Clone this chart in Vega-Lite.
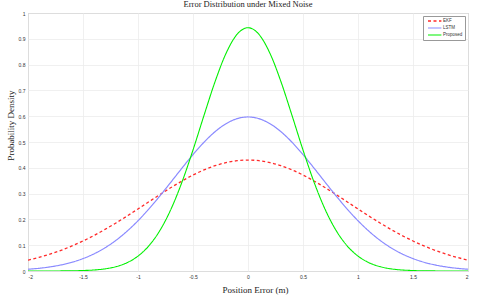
{
  "$schema": "https://vega.github.io/schema/vega-lite/v6.json",
  "autosize": "none",
  "width": 440,
  "height": 258,
  "padding": {"left": 28, "top": 13, "right": 12, "bottom": 24},
  "background": "white",
  "title": {
    "text": "Error Distribution under Mixed Noise",
    "font": "Liberation Serif",
    "fontSize": 8.5,
    "fontWeight": "normal",
    "color": "#222",
    "offset": 3,
    "anchor": "middle"
  },
  "config": {
    "view": {"stroke": "#a0a0a0", "strokeWidth": 1},
    "axis": {
      "grid": true,
      "gridColor": "#ececec",
      "gridWidth": 0.8,
      "domain": false,
      "ticks": false,
      "labelFont": "Liberation Sans",
      "labelFontSize": 5,
      "labelColor": "#333",
      "titleFont": "Liberation Serif",
      "titleFontSize": 9,
      "titleFontWeight": "normal",
      "titleColor": "#222"
    }
  },
  "data": {
    "values": [
      {"x": -2.0, "EKF": 0.0421, "LSTM": 0.0068, "Proposed": 0.0000},
      {"x": -1.9, "EKF": 0.0528, "LSTM": 0.0105, "Proposed": 0.0000},
      {"x": -1.8, "EKF": 0.0655, "LSTM": 0.0159, "Proposed": 0.0001},
      {"x": -1.7, "EKF": 0.0802, "LSTM": 0.0235, "Proposed": 0.0003},
      {"x": -1.6, "EKF": 0.0972, "LSTM": 0.0340, "Proposed": 0.0007},
      {"x": -1.5, "EKF": 0.1164, "LSTM": 0.0481, "Proposed": 0.0018},
      {"x": -1.4, "EKF": 0.1377, "LSTM": 0.0665, "Proposed": 0.0039},
      {"x": -1.3, "EKF": 0.1611, "LSTM": 0.0900, "Proposed": 0.0084},
      {"x": -1.2, "EKF": 0.1863, "LSTM": 0.1190, "Proposed": 0.0169},
      {"x": -1.1, "EKF": 0.2129, "LSTM": 0.1540, "Proposed": 0.0321},
      {"x": -1.0, "EKF": 0.2405, "LSTM": 0.1948, "Proposed": 0.0577},
      {"x": -0.9, "EKF": 0.2686, "LSTM": 0.2410, "Proposed": 0.0981},
      {"x": -0.8, "EKF": 0.2965, "LSTM": 0.2916, "Proposed": 0.1577},
      {"x": -0.7, "EKF": 0.3235, "LSTM": 0.3449, "Proposed": 0.2398},
      {"x": -0.6, "EKF": 0.3488, "LSTM": 0.3989, "Proposed": 0.3449},
      {"x": -0.5, "EKF": 0.3719, "LSTM": 0.4512, "Proposed": 0.4690},
      {"x": -0.4, "EKF": 0.3918, "LSTM": 0.4991, "Proposed": 0.6031},
      {"x": -0.3, "EKF": 0.4081, "LSTM": 0.5398, "Proposed": 0.7333},
      {"x": -0.2, "EKF": 0.4201, "LSTM": 0.5709, "Proposed": 0.8433},
      {"x": -0.1, "EKF": 0.4275, "LSTM": 0.5904, "Proposed": 0.9170},
      {"x": 0.0, "EKF": 0.4300, "LSTM": 0.5970, "Proposed": 0.9430},
      {"x": 0.1, "EKF": 0.4275, "LSTM": 0.5904, "Proposed": 0.9170},
      {"x": 0.2, "EKF": 0.4201, "LSTM": 0.5709, "Proposed": 0.8433},
      {"x": 0.3, "EKF": 0.4081, "LSTM": 0.5398, "Proposed": 0.7333},
      {"x": 0.4, "EKF": 0.3918, "LSTM": 0.4991, "Proposed": 0.6031},
      {"x": 0.5, "EKF": 0.3719, "LSTM": 0.4512, "Proposed": 0.4690},
      {"x": 0.6, "EKF": 0.3488, "LSTM": 0.3989, "Proposed": 0.3449},
      {"x": 0.7, "EKF": 0.3235, "LSTM": 0.3449, "Proposed": 0.2398},
      {"x": 0.8, "EKF": 0.2965, "LSTM": 0.2916, "Proposed": 0.1577},
      {"x": 0.9, "EKF": 0.2686, "LSTM": 0.2410, "Proposed": 0.0981},
      {"x": 1.0, "EKF": 0.2405, "LSTM": 0.1948, "Proposed": 0.0577},
      {"x": 1.1, "EKF": 0.2129, "LSTM": 0.1540, "Proposed": 0.0321},
      {"x": 1.2, "EKF": 0.1863, "LSTM": 0.1190, "Proposed": 0.0169},
      {"x": 1.3, "EKF": 0.1611, "LSTM": 0.0900, "Proposed": 0.0084},
      {"x": 1.4, "EKF": 0.1377, "LSTM": 0.0665, "Proposed": 0.0039},
      {"x": 1.5, "EKF": 0.1164, "LSTM": 0.0481, "Proposed": 0.0018},
      {"x": 1.6, "EKF": 0.0972, "LSTM": 0.0340, "Proposed": 0.0007},
      {"x": 1.7, "EKF": 0.0802, "LSTM": 0.0235, "Proposed": 0.0003},
      {"x": 1.8, "EKF": 0.0655, "LSTM": 0.0159, "Proposed": 0.0001},
      {"x": 1.9, "EKF": 0.0528, "LSTM": 0.0105, "Proposed": 0.0000},
      {"x": 2.0, "EKF": 0.0421, "LSTM": 0.0068, "Proposed": 0.0000}
    ]
  },
  "transform": [
    {"fold": ["EKF", "LSTM", "Proposed"], "as": ["method", "density"]}
  ],
  "mark": {"type": "line", "interpolate": "monotone", "clip": true},
  "encoding": {
    "x": {
      "field": "x",
      "type": "quantitative",
      "scale": {"domain": [-2, 2], "nice": false},
      "axis": {
        "values": [-2, -1.5, -1, -0.5, 0, 0.5, 1, 1.5, 2],
        "labelExpr": "'' + datum.value",
        "labelPadding": 3,
        "title": "Position Error (m)",
        "titleX": 227,
        "titleY": 21,
        "titleBaseline": "alphabetic",
        "titleAnchor": "middle"
      }
    },
    "y": {
      "field": "density",
      "type": "quantitative",
      "scale": {"domain": [0, 1], "nice": false},
      "axis": {
        "values": [0, 0.1, 0.2, 0.3, 0.4, 0.5, 0.6, 0.7, 0.8, 0.9, 1],
        "labelExpr": "'' + datum.value",
        "labelPadding": 3,
        "title": "Probability Density",
        "titleX": -18,
        "titleY": 112,
        "titleAngle": -90,
        "titleBaseline": "middle",
        "titleAnchor": "middle"
      }
    },
    "color": {
      "field": "method",
      "type": "nominal",
      "scale": {"domain": ["EKF", "LSTM", "Proposed"], "range": ["#ff2a2a", "#8a8aff", "#00f000"]},
      "legend": {
        "title": null,
        "orient": "top-right",
        "offset": 3,
        "fillColor": "white",
        "strokeColor": "#999",
        "padding": 2,
        "rowPadding": 1,
        "labelFont": "Liberation Sans",
        "labelFontSize": 4.5,
        "labelColor": "#333",
        "labelOffset": 12,
        "symbolType": "M0,0H6",
        "symbolSize": 20,
        "symbolStrokeWidth": 1.2
      }
    },
    "strokeDash": {
      "field": "method",
      "type": "nominal",
      "scale": {"domain": ["EKF", "LSTM", "Proposed"], "range": [[3, 2.5], [1, 0], [1, 0]]},
      "legend": {
        "title": null,
        "orient": "top-right",
        "offset": 3,
        "fillColor": "white",
        "strokeColor": "#999",
        "padding": 2,
        "rowPadding": 1,
        "labelFont": "Liberation Sans",
        "labelFontSize": 4.5,
        "labelColor": "#333",
        "labelOffset": 12,
        "symbolType": "M0,0H6",
        "symbolSize": 20,
        "symbolStrokeWidth": 1.2
      }
    },
    "strokeWidth": {
      "field": "method",
      "type": "nominal",
      "scale": {"domain": ["EKF", "LSTM", "Proposed"], "range": [1.3, 1.1, 1.6]},
      "legend": null
    }
  }
}
